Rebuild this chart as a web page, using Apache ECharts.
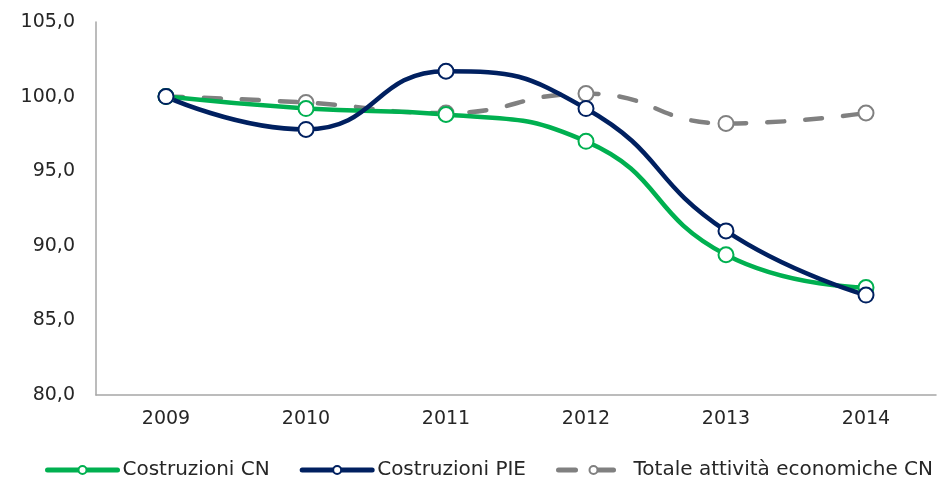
<!DOCTYPE html>
<html>
<head>
<meta charset="utf-8">
<script src="https://cdn.jsdelivr.net/npm/echarts@6/dist/echarts.min.js"></script>
<style>
  html, body { margin: 0; padding: 0; background: #fff; }
  #chart { width: 941px; height: 480px; }
</style>
</head>
<body>
<div id="chart"></div>
<script>
// values
const years = ['2009', '2010', '2011', '2012', '2013', '2014'];
const costruzioniCN = [100.0, 99.2, 98.8, 97.0, 89.4, 87.2];
const costruzioniPIE = [100.0, 97.8, 101.7, 99.2, 91.0, 86.7];
const totaleCN = [100.0, 99.6, 98.9, 100.2, 98.2, 98.9];
const seriesNames = ['Costruzioni CN', 'Costruzioni PIE', 'Totale attività economiche CN'];

const FONT = 'DejaVu Sans';

function makeSeries (name, data, color, dashed) {
    return {
        name: name,
        type: 'line',
        data: data,
        smooth: true,
        symbol: 'circle',
        symbolSize: 15,
        showSymbol: true,
        lineStyle: { color: color, width: 4.5, type: dashed ? [17, 21] : 'solid', cap: 'round' },
        itemStyle: { color: '#fff', borderColor: color, borderWidth: 2 },
        emphasis: { disabled: true }
    };
}

const chart = echarts.init(document.getElementById('chart'));
chart.setOption({
    animation: false,
    grid: { left: 96, right: 5, top: 22, bottom: 85, containLabel: false },
    legend: {
        top: 455,
        left: 40,
        itemWidth: 70,
        itemHeight: 10,
        itemGap: 30,
        lineStyle: { width: 5 },
        textStyle: { fontFamily: FONT, fontSize: 20, color: '#262626' },
        data: seriesNames
    },
    xAxis: {
        type: 'category',
        data: years,
        boundaryGap: true,
        axisLine: { lineStyle: { color: '#A6A6A6', width: 1.5 } },
        axisTick: { show: false },
        axisLabel: { fontFamily: FONT, fontSize: 19, color: '#262626', margin: 15 }
    },
    yAxis: {
        type: 'value',
        min: 80,
        max: 105,
        interval: 5,
        axisLine: { show: true, lineStyle: { color: '#A6A6A6', width: 1.5 } },
        axisTick: { show: false },
        splitLine: { show: false },
        axisLabel: {
            fontFamily: FONT, fontSize: 19, color: '#262626', margin: 21,
            formatter: v => v.toFixed(1).replace('.', ',')
        }
    },
    series: [
        makeSeries(seriesNames[2], totaleCN, '#808080', true),
        makeSeries(seriesNames[0], costruzioniCN, '#00B050', false),
        makeSeries(seriesNames[1], costruzioniPIE, '#002060', false)
    ]
});
</script>
</body>
</html>
